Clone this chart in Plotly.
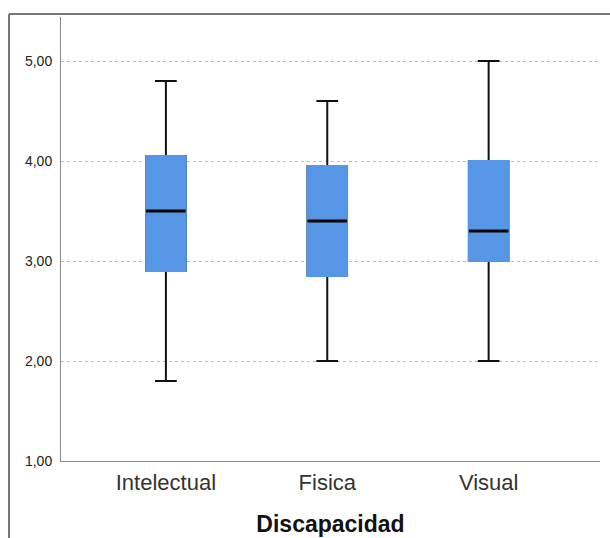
import plotly.graph_objects as go

categories = ["Intelectual", "Fisica", "Visual"]
lower_whisker = [1.8, 2.0, 2.0]
q1 = [2.9, 2.85, 3.0]
median = [3.5, 3.4, 3.3]
q3 = [4.05, 3.95, 4.0]
upper_whisker = [4.8, 4.6, 5.0]
y_ticks = [1, 2, 3, 4, 5]
y_tick_labels = ["1,00", "2,00", "3,00", "4,00", "5,00"]

BLUE = "#5596E6"
BW = 0.245

fig = go.Figure()
# whiskers (black)
fig.add_trace(go.Box(
    x=categories, q1=q1, median=median, q3=q3,
    lowerfence=lower_whisker, upperfence=upper_whisker,
    fillcolor=BLUE, line=dict(color="#111111", width=2),
    width=BW, whiskerwidth=0.55, boxpoints=False, hoverinfo="skip",
    showlegend=False))
# blue box covering outline
fig.add_trace(go.Box(
    x=categories, q1=q1, median=median, q3=q3,
    lowerfence=q1, upperfence=q3,
    fillcolor=BLUE, line=dict(color=BLUE, width=2),
    width=BW, whiskerwidth=0, boxpoints=False, hoverinfo="skip",
    showlegend=False))
# black median line
fig.add_trace(go.Box(
    x=categories, q1=median, median=median, q3=median,
    lowerfence=median, upperfence=median,
    fillcolor="rgba(0,0,0,0)", line=dict(color="#000000", width=3),
    width=BW, whiskerwidth=0, boxpoints=False, hoverinfo="skip",
    showlegend=False))

fig.update_layout(
    width=610, height=538,
    margin=dict(l=61, r=10, t=17, b=77),
    paper_bgcolor="white", plot_bgcolor="white",
    boxmode="overlay",
    font=dict(family="Liberation Sans, Arial, sans-serif"),
    xaxis=dict(
        range=[-0.65, 2.69], showgrid=False, zeroline=False, automargin=False,
        showline=True, linecolor="#8a8a8a", linewidth=1,
        ticks="outside", ticklen=2, tickcolor="rgba(0,0,0,0)",
        tickfont=dict(size=22, color="#333333"),
        title=dict(text="<b>Discapacidad</b>", font=dict(size=23, color="#111111"), standoff=21),
    ),
    yaxis=dict(
        range=[1, 5.44], tickvals=y_ticks, ticktext=y_tick_labels, automargin=False,
        showgrid=True, gridcolor="#bdbdbd", griddash="3px,3px", gridwidth=1,
        zeroline=False, showline=True, linecolor="#8a8a8a", linewidth=1,
        ticks="outside", ticklen=5, tickcolor="rgba(0,0,0,0)",
        tickfont=dict(size=14, color="#222222"),
    ),
    shapes=[
        dict(type="line", xref="paper", yref="paper",
             x0=(9 - 61) / 539, x1=1.03, y0=(538 - 77 - 14) / 444, y1=(538 - 77 - 14) / 444,
             line=dict(color="#777777", width=2)),
        dict(type="line", xref="paper", yref="paper",
             x0=(9 - 61) / 539, x1=(9 - 61) / 539, y0=(538 - 77 - 14) / 444, y1=-0.2,
             line=dict(color="#777777", width=2)),
    ],
)

fig.write_html("out.html", config={"displayModeBar": False},
               post_script="document.body.style.margin='0px';document.body.style.overflow='hidden';")
